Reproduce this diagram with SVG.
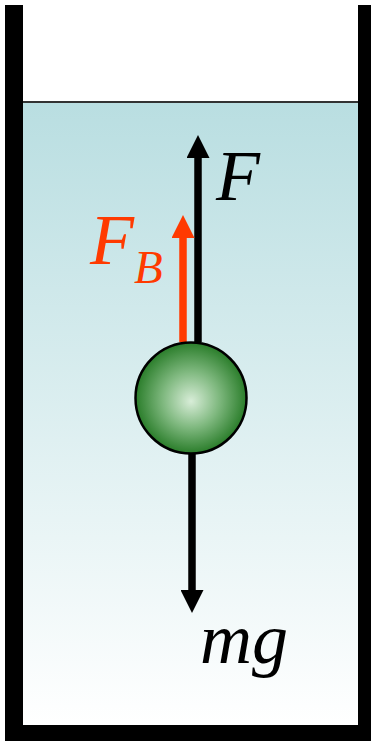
<svg xmlns="http://www.w3.org/2000/svg" width="371" height="741" viewBox="0 0 371 741">
<defs>
<linearGradient id="water" x1="0" y1="0" x2="0" y2="1">
<stop offset="0" stop-color="#b9dee1"/>
<stop offset="1" stop-color="#ffffff"/>
</linearGradient>
<radialGradient id="ball" cx="0.5" cy="0.5" r="0.5" fx="0.5" fy="0.53">
<stop offset="0" stop-color="#d8edd8"/>
<stop offset="0.5" stop-color="#80b980"/>
<stop offset="1" stop-color="#2a7d2a"/>
</radialGradient>
<marker id="ahBlack" viewBox="0 0 24 23" refX="0" refY="11.5" markerWidth="24" markerHeight="23" markerUnits="userSpaceOnUse" orient="auto">
<path d="M0,0 L23,11.5 L0,23 Z" fill="#000"/>
</marker>
<marker id="ahRed" viewBox="0 0 24 23" refX="0" refY="11.5" markerWidth="24" markerHeight="23" markerUnits="userSpaceOnUse" orient="auto">
<path d="M0,0 L23,11.5 L0,23 Z" fill="#ff3a00"/>
</marker>
</defs>
<style>
.lbl{font-family:"Liberation Serif","Times New Roman",serif;font-style:italic}
.shaft{stroke-width:7.5;fill:none}
</style>
<g id="container">
<rect x="23" y="102" width="335" height="623" fill="url(#water)"/>
<line x1="23" y1="102" x2="358" y2="102" stroke="#333" stroke-width="2"/>
<rect x="5" y="5" width="18" height="736" fill="#000"/>
<rect x="358" y="5" width="13" height="736" fill="#000"/>
<rect x="5" y="725" width="366" height="16" fill="#000"/>
</g>
<g id="connectors">
<line class="shaft" x1="198" y1="342" x2="198" y2="158" stroke="#000" marker-end="url(#ahBlack)"/>
<line class="shaft" x1="183" y1="342" x2="183" y2="238" stroke="#ff3a00" marker-end="url(#ahRed)"/>
<line class="shaft" x1="192" y1="454" x2="192" y2="590" stroke="#000" marker-end="url(#ahBlack)"/>
</g>
<g id="ball-node">
<circle cx="191" cy="398" r="55.5" fill="url(#ball)" stroke="#000" stroke-width="2.5"/>
</g>
<g id="label-F">
<text class="lbl" x="216" y="200" font-size="72" fill="#000">F</text>
</g>
<g id="label-FB">
<text class="lbl" x="90" y="264" font-size="72" fill="#ff3a00">F</text>
<text class="lbl" x="134" y="283" font-size="47" fill="#ff3a00">B</text>
</g>
<g id="label-mg">
<text class="lbl" x="200" y="663" font-size="72" fill="#000">mg</text>
</g>
</svg>
